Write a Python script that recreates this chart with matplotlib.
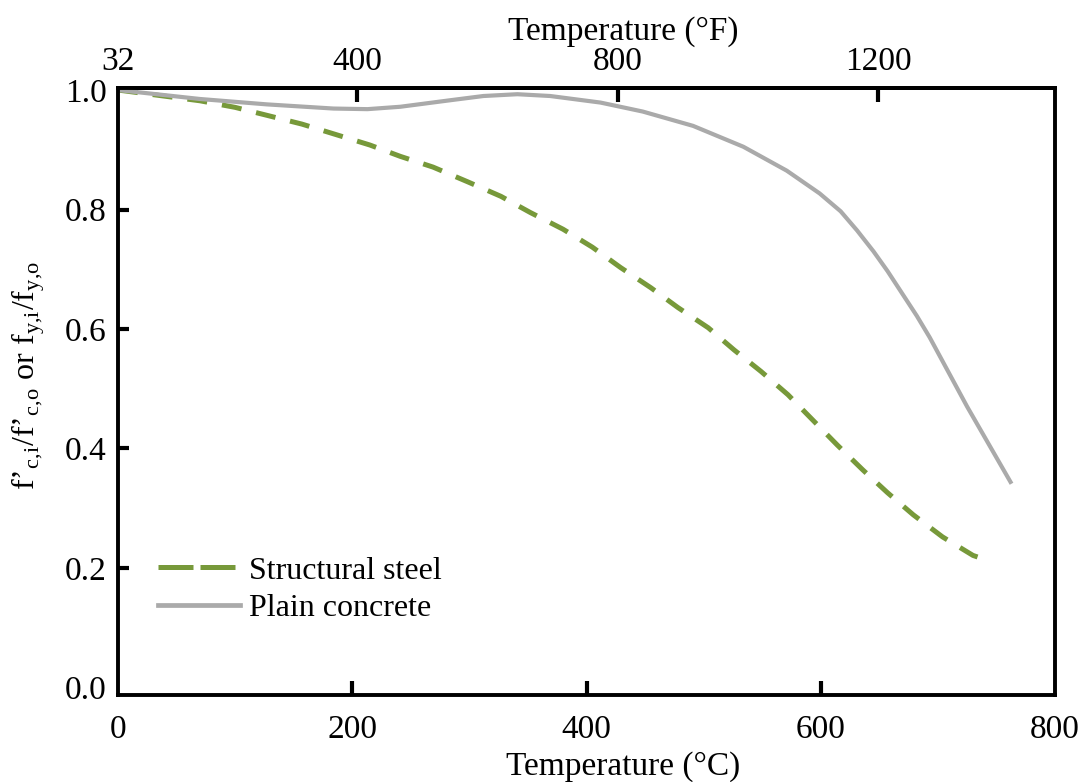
import matplotlib
matplotlib.use("Agg")
import matplotlib.pyplot as plt
from matplotlib.lines import Line2D

# ---- data ----
steel_T = [0, 70, 100, 157, 215, 241, 269, 299, 327, 352, 380, 405, 429, 455, 478,
           504, 526, 549, 572, 593, 614, 636, 657, 679, 704, 730, 739]
steel_ratio = [1.0, 0.982, 0.971, 0.943, 0.908, 0.889, 0.871, 0.846, 0.822, 0.795,
               0.767, 0.737, 0.703, 0.669, 0.636, 0.602, 0.565, 0.529, 0.490, 0.448,
               0.406, 0.364, 0.326, 0.289, 0.252, 0.221, 0.215]

concrete_T = [0, 70, 127, 184, 213, 241, 284, 312, 341, 369, 412, 448, 491, 534, 571,
              599, 617, 631, 645, 657, 668, 682, 693, 725, 762]
concrete_ratio = [1.0, 0.985, 0.976, 0.969, 0.968, 0.972, 0.983, 0.990, 0.993, 0.990,
                  0.979, 0.964, 0.940, 0.905, 0.865, 0.827, 0.797, 0.765, 0.730, 0.697,
                  0.664, 0.622, 0.586, 0.470, 0.344]

x_ticks_C = [0, 200, 400, 600, 800]
x_ticks_F = [32, 400, 800, 1200]
y_ticks = [0.0, 0.2, 0.4, 0.6, 0.8, 1.0]
series_labels = ["Structural steel", "Plain concrete"]

# ---- style ----
plt.rcParams['font.family'] = ['Liberation Serif', 'DejaVu Serif']
plt.rcParams['mathtext.fontset'] = 'custom'
plt.rcParams['mathtext.rm'] = 'Liberation Serif'
GREEN = '#77993a'
GRAY = '#aaaaaa'
FS = 24

W, H = 1086, 782
fig = plt.figure(figsize=(W / 100, H / 100), dpi=100)
L, R, T, B = 118, 1055, 88, 695
ax = fig.add_axes([L / W, (H - B) / H, (R - L) / W, (B - T) / H])

ax.plot(steel_T, steel_ratio, color=GREEN, lw=3.6, dashes=(4, 3))
ax.plot(concrete_T, concrete_ratio, color=GRAY, lw=3.0)

ax.set_xlim(0, 800)
ax.set_ylim(-0.0126, 1.0034)

for s in ax.spines.values():
    s.set_linewidth(2.8)
    s.set_color('black')

ax.set_xticks(x_ticks_C)
ax.set_xticklabels([str(v) for v in x_ticks_C])
ax.set_yticks(y_ticks)
ax.set_yticklabels([f"{v:.1f}" for v in y_ticks])
ax.tick_params(axis='x', direction='in', length=10, width=3, labelsize=FS, pad=14)
ax.tick_params(axis='y', direction='in', length=8, width=3, labelsize=FS, pad=8)
for i in (0, -1):
    ax.xaxis.get_major_ticks()[i].tick1line.set_visible(False)
    ax.yaxis.get_major_ticks()[i].tick1line.set_visible(False)

ax.set_xlabel("Temperature (°C)", fontsize=FS)
ax.xaxis.set_label_coords(0.539, -0.093)
ax.set_ylabel(r"f’$_{\mathregular{c{,}i}}$/f’$_{\mathregular{c{,}o}}$ or "
              r"f$_{\mathregular{y{,}i}}$/f$_{\mathregular{y{,}o}}$", fontsize=23)
ax.yaxis.set_label_coords(-0.076, 0.526)

def c2f(c):
    return c * 9.0 / 5.0 + 32.0

def f2c(f):
    return (f - 32.0) * 5.0 / 9.0

sec = ax.secondary_xaxis('top', functions=(c2f, f2c))
sec.set_xticks(x_ticks_F)
sec.set_xticklabels([str(v) for v in x_ticks_F])
sec.tick_params(axis='x', direction='in', length=10, width=3, labelsize=FS, pad=8)
sec.spines['top'].set_linewidth(2.8)
sec.xaxis.get_major_ticks()[0].tick2line.set_visible(False)
sec.xaxis.get_major_ticks()[0].tick1line.set_visible(False)
sec.set_xlabel("Temperature (°F)", fontsize=FS)
sec.xaxis.set_label_coords(0.539, 1.079, transform=ax.transAxes)

handles = [Line2D([], [], color=GREEN, lw=3.6, dashes=(7, 1.4)),
           Line2D([], [], color=GRAY, lw=3.4)]
ax.legend(handles, series_labels, loc='upper left', bbox_to_anchor=(0.0427, 0.2285),
          frameon=False, fontsize=23, handlelength=2.56, handletextpad=0.3,
          borderpad=0, borderaxespad=0, labelspacing=0.25)

fig.savefig("out.png", dpi=100)
